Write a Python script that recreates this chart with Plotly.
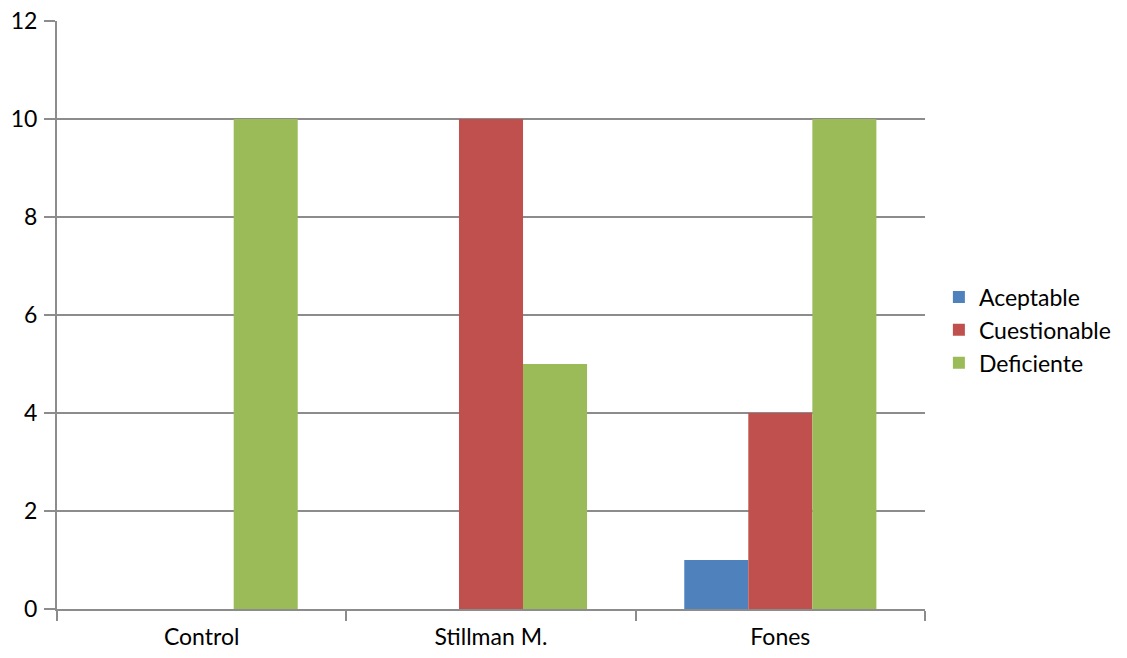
import plotly.graph_objects as go

categories = ["Control", "Stillman M.", "Fones"]
aceptable = [0, 0, 1]
cuestionable = [0, 10, 4]
deficiente = [10, 5, 10]
y_ticks = [0, 2, 4, 6, 8, 10, 12]

colors = {"Aceptable": "#4F81BD", "Cuestionable": "#C0504D", "Deficiente": "#9BBB59"}
grid = "#8C8C8C"

fig = go.Figure()
for name, vals in [("Aceptable", aceptable), ("Cuestionable", cuestionable), ("Deficiente", deficiente)]:
    fig.add_trace(go.Bar(x=categories, y=vals, name=name, marker_color=colors[name], marker_line_width=0))

fig.update_layout(
    width=1127, height=658,
    margin=dict(l=57, r=202, t=21, b=49, autoexpand=False),
    paper_bgcolor="white", plot_bgcolor="white",
    font=dict(family="Lato", size=23, color="#000000"),
    barmode="group", bargap=0.336, bargroupgap=0,
    legend=dict(x=1.016, y=0.4745, xanchor="left", yanchor="middle", font=dict(size=23),
                itemwidth=30, tracegroupgap=0),
    showlegend=True,
)
fig.update_xaxes(type="category", tickson="boundaries", ticks="outside", ticklen=10,
                 tickcolor=grid, tickwidth=2, showgrid=False, showline=True,
                 linecolor=grid, linewidth=2, tickfont=dict(size=23), automargin=False,
                 ticklabelstandoff=6)
fig.update_yaxes(range=[0, 12], tickvals=y_ticks, ticks="outside", ticklen=11,
                 tickcolor=grid, tickwidth=2, showgrid=True, gridcolor=grid, gridwidth=2,
                 showline=True, linecolor=grid, linewidth=2, zeroline=False,
                 tickfont=dict(size=23), automargin=False, ticklabelstandoff=2)

fig.write_html("out.html")
